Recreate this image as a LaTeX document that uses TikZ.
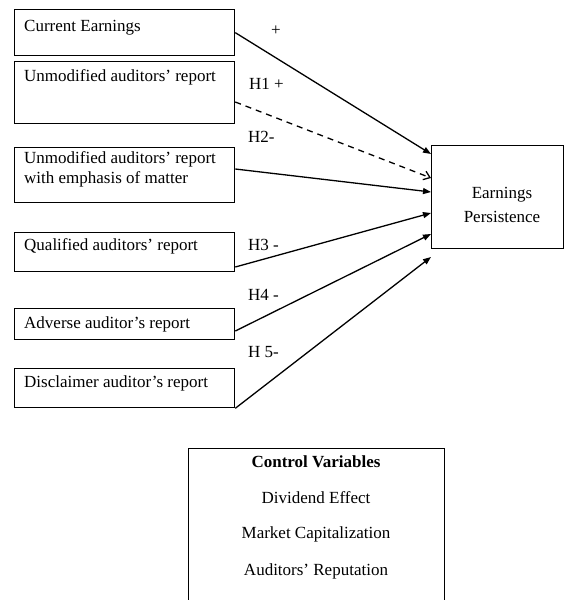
\documentclass[tikz,border=0pt]{standalone}
\usepackage{fontspec}
\setmainfont{Liberation Serif}
\usetikzlibrary{arrows.meta}
\begin{document}
\begin{tikzpicture}[x=1pt,y=-1pt,
  box/.style={draw, line width=1.3pt, anchor=north west, inner sep=0pt, minimum width=220pt},
  txt/.style={anchor=base west, inner sep=0pt, font=\fontsize{17}{20}\selectfont, align=left},
  ctxt/.style={anchor=base, inner sep=0pt, font=\fontsize{17}{24}\selectfont, align=center},
  hyp/.style={anchor=base west, inner sep=0pt, font=\fontsize{17}{20}\selectfont},
  link/.style={line width=1.3pt, -{Triangle[length=8pt,width=6pt]}},
  dlink/.style={line width=1.3pt, dash pattern=on 6pt off 5pt, -{Straight Barb[length=6pt,width=9pt]}},
]
\useasboundingbox (0,0) rectangle (565,600);
\clip (0,0) rectangle (565,600);

% left boxes
\node[box, minimum height=46pt] (ce) at (14,9) {};
\node[box, minimum height=62pt] (um) at (14,61) {};
\node[box, minimum height=55pt] (ue) at (14,147) {};
\node[box, minimum height=39pt] (qa) at (14,232) {};
\node[box, minimum height=31pt] (ad) at (14,308) {};
\node[box, minimum height=39pt] (dc) at (14,368) {};

\node[txt] (tce) at (24,31) {Current Earnings};
\node[txt] (tum) at (24,81) {Unmodified auditors’ report};
\node[txt] (tue) at (24,183) {Unmodified auditors’ report\\with emphasis of matter};
\node[txt] (tqa) at (24,250) {Qualified auditors’ report};
\node[txt] (tad) at (24,328) {Adverse auditor’s report};
\node[txt] (tdc) at (24,387) {Disclaimer auditor’s report};

% dependent variable
\node[box, minimum width=132pt, minimum height=103pt] (ep) at (431,145) {};
\node[ctxt] (tep) at (502,222) {Earnings\\Persistence};

% control variables
\node[box, minimum width=256pt, minimum height=170pt] (cv) at (188,448) {};
\node[ctxt, font=\fontsize{17}{20}\selectfont\bfseries] (cv0) at (316,467) {Control Variables};
\node[ctxt] (cv1) at (316,503) {Dividend Effect};
\node[ctxt] (cv2) at (316,538) {Market Capitalization};
\node[ctxt] (cv3) at (316,575) {Auditors’ Reputation};

% hypothesis labels
\node[hyp] (h0) at (271,35) {+};
\node[hyp] (h1) at (249,89) {H1 +};
\node[hyp] (h2) at (248,142) {H2-};
\node[hyp] (h3) at (248,250) {H3 -};
\node[hyp] (h4) at (248,300) {H4 -};
\node[hyp] (h5) at (248,357) {H 5-};

% connectors
\draw[link] (ce.east) -- (ep.west |- 0,154);
\draw[dlink] (um.east |- 0,102) -- (ep.west |- 0,178);
\draw[link] (ue.east |- 0,169) -- (ep.west |- 0,192);
\draw[link] (qa.east |- 0,267) -- (ep.west |- 0,213);
\draw[link] (ad.east |- 0,331) -- (ep.west |- 0,234);
\draw[link] (dc.south east) -- (ep.west |- 0,257);
\end{tikzpicture}
\end{document}
